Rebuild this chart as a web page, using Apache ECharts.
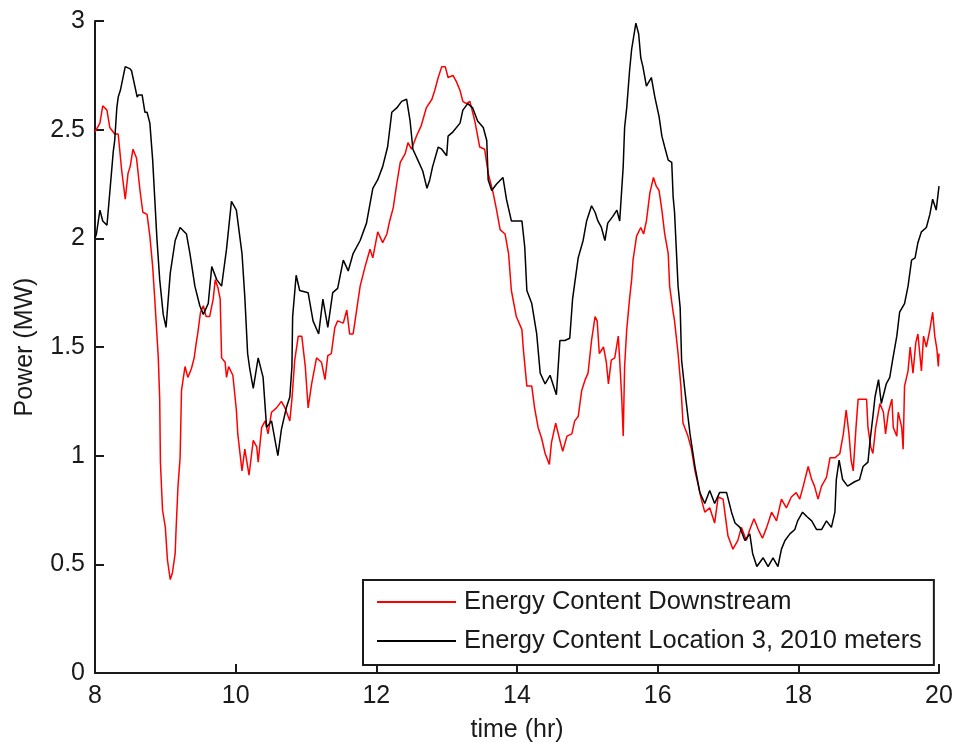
<!DOCTYPE html>
<html>
<head>
<meta charset="utf-8">
<script src="https://cdn.jsdelivr.net/npm/echarts@6/dist/echarts.min.js"></script>
<style>
  html, body { margin: 0; padding: 0; background: #fff; }
  #chart { width: 958px; height: 742px; }
</style>
</head>
<body>
<div id="chart"></div>
<script>
// Power of the downstream flow (hours, MW)
const hoursDownstream = [
  8.00, 8.07, 8.11, 8.17, 8.21, 8.28, 8.33, 8.38, 8.43, 8.47, 8.50, 8.54, 8.59, 8.64, 8.68, 8.74, 8.78, 8.82, 8.85, 8.90,
  8.92, 8.93, 8.96, 9.00, 9.03, 9.07, 9.10, 9.14, 9.15, 9.18, 9.21, 9.23, 9.28, 9.32, 9.37, 9.41, 9.44, 9.46, 9.50, 9.54,
  9.58, 9.63, 9.68, 9.71, 9.75, 9.78, 9.80, 9.85, 9.87, 9.90, 9.96, 10.01, 10.03, 10.09, 10.13, 10.19, 10.25, 10.30, 10.32, 10.37,
  10.42, 10.46, 10.51, 10.58, 10.65, 10.70, 10.77, 10.80, 10.84, 10.89, 10.94, 10.99, 11.03, 11.08, 11.15, 11.22, 11.27, 11.31, 11.36, 11.41,
  11.45, 11.53, 11.58, 11.62, 11.67, 11.72, 11.77, 11.84, 11.91, 11.95, 12.02, 12.09, 12.15, 12.19, 12.24, 12.29, 12.34, 12.41, 12.45, 12.50,
  12.57, 12.64, 12.71, 12.79, 12.83, 12.88, 12.93, 12.98, 13.02, 13.09, 13.14, 13.19, 13.23, 13.28, 13.33, 13.40, 13.47, 13.54, 13.59, 13.66,
  13.71, 13.76, 13.83, 13.88, 13.92, 13.99, 14.07, 14.09, 14.14, 14.21, 14.25, 14.30, 14.35, 14.40, 14.46, 14.49, 14.55, 14.61, 14.65, 14.71,
  14.78, 14.82, 14.87, 14.92, 14.97, 15.01, 15.06, 15.11, 15.14, 15.17, 15.23, 15.27, 15.30, 15.34, 15.39, 15.44, 15.46, 15.49, 15.51, 15.53,
  15.56, 15.60, 15.63, 15.65, 15.70, 15.76, 15.80, 15.84, 15.89, 15.94, 15.98, 16.02, 16.06, 16.10, 16.15, 16.17, 16.22, 16.24, 16.29, 16.33,
  16.36, 16.43, 16.48, 16.53, 16.58, 16.62, 16.67, 16.74, 16.81, 16.86, 16.93, 17.00, 17.07, 17.14, 17.19, 17.26, 17.31, 17.37, 17.43, 17.49,
  17.55, 17.62, 17.69, 17.76, 17.83, 17.90, 17.97, 18.02, 18.07, 18.14, 18.19, 18.23, 18.28, 18.33, 18.40, 18.45, 18.52, 18.59, 18.64, 18.68,
  18.72, 18.75, 18.78, 18.82, 18.85, 18.92, 18.97, 18.99, 19.03, 19.06, 19.10, 19.16, 19.21, 19.24, 19.28, 19.33, 19.35, 19.40, 19.42, 19.47,
  19.49, 19.51, 19.56, 19.59, 19.63, 19.67, 19.70, 19.75, 19.78, 19.82, 19.87, 19.91, 19.94, 19.97, 19.99, 20.00
];
const powerDownstream = [
  2.49, 2.53, 2.61, 2.59, 2.51, 2.48, 2.48, 2.31, 2.18, 2.30, 2.33, 2.41, 2.37, 2.22, 2.12, 2.11, 2.01, 1.87, 1.72, 1.45,
  1.26, 0.97, 0.75, 0.67, 0.52, 0.43, 0.46, 0.55, 0.64, 0.86, 0.99, 1.30, 1.41, 1.36, 1.40, 1.45, 1.52, 1.56, 1.66, 1.69,
  1.64, 1.64, 1.72, 1.81, 1.77, 1.72, 1.45, 1.43, 1.36, 1.41, 1.37, 1.21, 1.10, 0.93, 1.03, 0.91, 1.07, 1.04, 0.97, 1.13,
  1.16, 1.10, 1.20, 1.22, 1.25, 1.22, 1.16, 1.26, 1.44, 1.55, 1.55, 1.41, 1.22, 1.33, 1.45, 1.43, 1.35, 1.46, 1.47, 1.59,
  1.62, 1.61, 1.67, 1.56, 1.56, 1.67, 1.78, 1.87, 1.95, 1.91, 2.03, 1.98, 2.02, 2.08, 2.14, 2.25, 2.35, 2.39, 2.44, 2.41,
  2.47, 2.52, 2.60, 2.64, 2.68, 2.74, 2.79, 2.79, 2.74, 2.75, 2.72, 2.68, 2.63, 2.62, 2.63, 2.54, 2.42, 2.41, 2.30, 2.21,
  2.13, 2.04, 2.02, 1.93, 1.76, 1.64, 1.58, 1.49, 1.32, 1.32, 1.22, 1.13, 1.08, 1.01, 0.96, 1.06, 1.15, 1.07, 1.02, 1.09,
  1.10, 1.16, 1.18, 1.30, 1.35, 1.38, 1.53, 1.64, 1.62, 1.47, 1.50, 1.43, 1.33, 1.44, 1.45, 1.55, 1.44, 1.26, 1.09, 1.41,
  1.58, 1.72, 1.81, 1.90, 2.01, 2.05, 2.02, 2.08, 2.21, 2.28, 2.24, 2.22, 2.13, 2.02, 1.93, 1.78, 1.66, 1.62, 1.47, 1.32,
  1.15, 1.09, 1.03, 0.93, 0.86, 0.80, 0.74, 0.76, 0.69, 0.81, 0.80, 0.63, 0.57, 0.61, 0.67, 0.61, 0.66, 0.71, 0.66, 0.62,
  0.67, 0.74, 0.70, 0.80, 0.76, 0.81, 0.83, 0.80, 0.86, 0.95, 0.89, 0.86, 0.80, 0.86, 0.90, 0.99, 0.99, 1.01, 1.10, 1.21,
  1.10, 0.98, 0.93, 1.13, 1.26, 1.26, 1.26, 1.13, 1.04, 1.01, 1.13, 1.24, 1.20, 1.10, 1.20, 1.26, 1.13, 1.09, 1.20, 1.13,
  1.03, 1.32, 1.39, 1.50, 1.38, 1.52, 1.56, 1.39, 1.55, 1.50, 1.58, 1.66, 1.55, 1.49, 1.41, 1.47
];

// Power at location 3, 2010 m (hours, MW)
const hoursLocation3 = [
  8.00, 8.02, 8.07, 8.11, 8.17, 8.21, 8.26, 8.28, 8.31, 8.33, 8.36, 8.43, 8.45, 8.50, 8.52, 8.54, 8.60, 8.62, 8.67, 8.71,
  8.74, 8.78, 8.82, 8.88, 8.92, 8.97, 9.01, 9.07, 9.14, 9.21, 9.30, 9.35, 9.42, 9.49, 9.54, 9.61, 9.66, 9.73, 9.80, 9.87,
  9.94, 10.01, 10.09, 10.13, 10.17, 10.20, 10.25, 10.32, 10.39, 10.42, 10.44, 10.51, 10.56, 10.60, 10.65, 10.72, 10.77, 10.80, 10.81, 10.86,
  10.91, 11.03, 11.10, 11.18, 11.24, 11.31, 11.38, 11.45, 11.53, 11.60, 11.67, 11.77, 11.86, 11.95, 12.02, 12.09, 12.16, 12.22, 12.29, 12.36,
  12.43, 12.48, 12.52, 12.59, 12.66, 12.72, 12.76, 12.80, 12.88, 12.93, 13.00, 13.02, 13.09, 13.19, 13.23, 13.30, 13.37, 13.44, 13.52, 13.57,
  13.59, 13.64, 13.71, 13.80, 13.85, 13.92, 14.07, 14.11, 14.14, 14.21, 14.28, 14.33, 14.40, 14.47, 14.54, 14.56, 14.61, 14.68, 14.75, 14.79,
  14.87, 14.94, 14.99, 15.06, 15.11, 15.15, 15.20, 15.25, 15.29, 15.36, 15.42, 15.46, 15.51, 15.53, 15.56, 15.60, 15.63, 15.69, 15.73, 15.76,
  15.79, 15.84, 15.91, 15.96, 16.02, 16.06, 16.10, 16.15, 16.20, 16.22, 16.24, 16.29, 16.32, 16.34, 16.39, 16.46, 16.53, 16.60, 16.67, 16.74,
  16.81, 16.88, 16.98, 17.05, 17.10, 17.17, 17.24, 17.31, 17.35, 17.41, 17.50, 17.57, 17.64, 17.71, 17.76, 17.81, 17.88, 17.95, 17.99, 18.06,
  18.12, 18.19, 18.26, 18.33, 18.40, 18.47, 18.52, 18.54, 18.58, 18.63, 18.70, 18.80, 18.87, 18.92, 18.99, 19.02, 19.06, 19.09, 19.14, 19.18,
  19.25, 19.30, 19.34, 19.40, 19.44, 19.51, 19.56, 19.61, 19.66, 19.70, 19.75, 19.82, 19.87, 19.91, 19.96, 20.00
];
const powerLocation3 = [
  2.00, 2.02, 2.13, 2.08, 2.06, 2.21, 2.40, 2.45, 2.60, 2.65, 2.68, 2.79, 2.79, 2.78, 2.77, 2.74, 2.65, 2.66, 2.66, 2.58,
  2.58, 2.53, 2.36, 2.00, 1.81, 1.65, 1.59, 1.84, 1.99, 2.05, 2.02, 1.93, 1.78, 1.69, 1.65, 1.70, 1.87, 1.81, 1.78, 1.95,
  2.17, 2.13, 1.93, 1.73, 1.47, 1.40, 1.31, 1.45, 1.36, 1.22, 1.13, 1.16, 1.07, 1.00, 1.12, 1.22, 1.27, 1.41, 1.64, 1.83,
  1.76, 1.75, 1.62, 1.56, 1.72, 1.59, 1.75, 1.77, 1.90, 1.85, 1.93, 1.99, 2.07, 2.23, 2.27, 2.33, 2.42, 2.58, 2.60, 2.63,
  2.64, 2.54, 2.41, 2.36, 2.31, 2.23, 2.27, 2.33, 2.42, 2.41, 2.38, 2.47, 2.49, 2.53, 2.59, 2.62, 2.60, 2.54, 2.51, 2.45,
  2.27, 2.22, 2.25, 2.28, 2.18, 2.08, 2.08, 1.96, 1.76, 1.70, 1.56, 1.38, 1.33, 1.37, 1.30, 1.28, 1.53, 1.53, 1.54, 1.72,
  1.91, 1.99, 2.08, 2.15, 2.12, 2.08, 2.05, 1.99, 2.07, 2.10, 2.13, 2.08, 2.33, 2.51, 2.60, 2.77, 2.87, 2.99, 2.94, 2.83,
  2.79, 2.70, 2.74, 2.65, 2.56, 2.47, 2.42, 2.36, 2.35, 2.19, 2.12, 1.78, 1.68, 1.44, 1.29, 1.10, 0.95, 0.83, 0.78, 0.84,
  0.78, 0.83, 0.83, 0.74, 0.69, 0.67, 0.61, 0.64, 0.55, 0.49, 0.53, 0.49, 0.53, 0.49, 0.57, 0.61, 0.64, 0.66, 0.70, 0.74,
  0.72, 0.70, 0.66, 0.66, 0.70, 0.67, 0.74, 0.89, 0.98, 0.89, 0.86, 0.88, 0.89, 0.95, 0.97, 1.07, 1.18, 1.27, 1.35, 1.24,
  1.33, 1.36, 1.44, 1.55, 1.66, 1.70, 1.78, 1.90, 1.91, 1.98, 2.03, 2.05, 2.11, 2.18, 2.13, 2.24
];

const xTicks = { min: 8, max: 20, step: 2 };
const yTicks = { min: 0, max: 3, step: 0.5 };

const pairs = (xs, ys) => xs.map((x, i) => [x, ys[i]]);

const ink = '#1a1a1a';
const fontFamily = 'Liberation Sans, Arial, sans-serif';

const chart = echarts.init(document.getElementById('chart'), null, { renderer: 'canvas' });
chart.setOption({
  animation: false,
  backgroundColor: '#ffffff',
  grid: { left: 95, right: 19, top: 21, bottom: 69, containLabel: false, outerBoundsMode: 'none' },
  xAxis: {
    type: 'value',
    min: xTicks.min, max: xTicks.max, interval: xTicks.step,
    name: 'time (hr)', nameLocation: 'middle', nameGap: 45,
    nameTextStyle: { color: ink, fontSize: 25, fontFamily },
    axisLine: { lineStyle: { color: ink, width: 2 } },
    axisTick: { inside: true, length: 9, lineStyle: { color: ink, width: 2 } },
    axisLabel: { color: ink, fontSize: 25, fontFamily, margin: 11 },
    splitLine: { show: false }
  },
  yAxis: {
    type: 'value',
    min: yTicks.min, max: yTicks.max, interval: yTicks.step,
    name: 'Power (MW)', nameLocation: 'middle', nameGap: 57,
    nameTextStyle: { color: ink, fontSize: 25, fontFamily },
    axisLine: { lineStyle: { color: ink, width: 2 } },
    axisTick: { inside: true, length: 9, lineStyle: { color: ink, width: 2 } },
    axisLabel: { color: ink, fontSize: 25, fontFamily, margin: 10 },
    splitLine: { show: false }
  },
  legend: {
    orient: 'vertical',
    left: 363, top: 580,
    padding: [9, 12, 11, 14],
    itemGap: 13,
    icon: 'rect',
    itemWidth: 79, itemHeight: 2,
    backgroundColor: '#ffffff',
    borderColor: ink, borderWidth: 2,
    textStyle: { color: ink, fontSize: 25.5, fontFamily, padding: [0, 0, 0, 3] },
    data: ['Energy Content Downstream', 'Energy Content Location 3, 2010 meters']
  },
  series: [
    {
      name: 'Energy Content Downstream',
      type: 'line',
      data: pairs(hoursDownstream, powerDownstream),
      symbol: 'none',
      lineStyle: { color: '#ff0000', width: 1.5 },
      itemStyle: { color: '#ff0000' },
      z: 2
    },
    {
      name: 'Energy Content Location 3, 2010 meters',
      type: 'line',
      data: pairs(hoursLocation3, powerLocation3),
      symbol: 'none',
      lineStyle: { color: '#000000', width: 1.5 },
      itemStyle: { color: '#000000' },
      z: 3
    }
  ]
});
</script>
</body>
</html>
